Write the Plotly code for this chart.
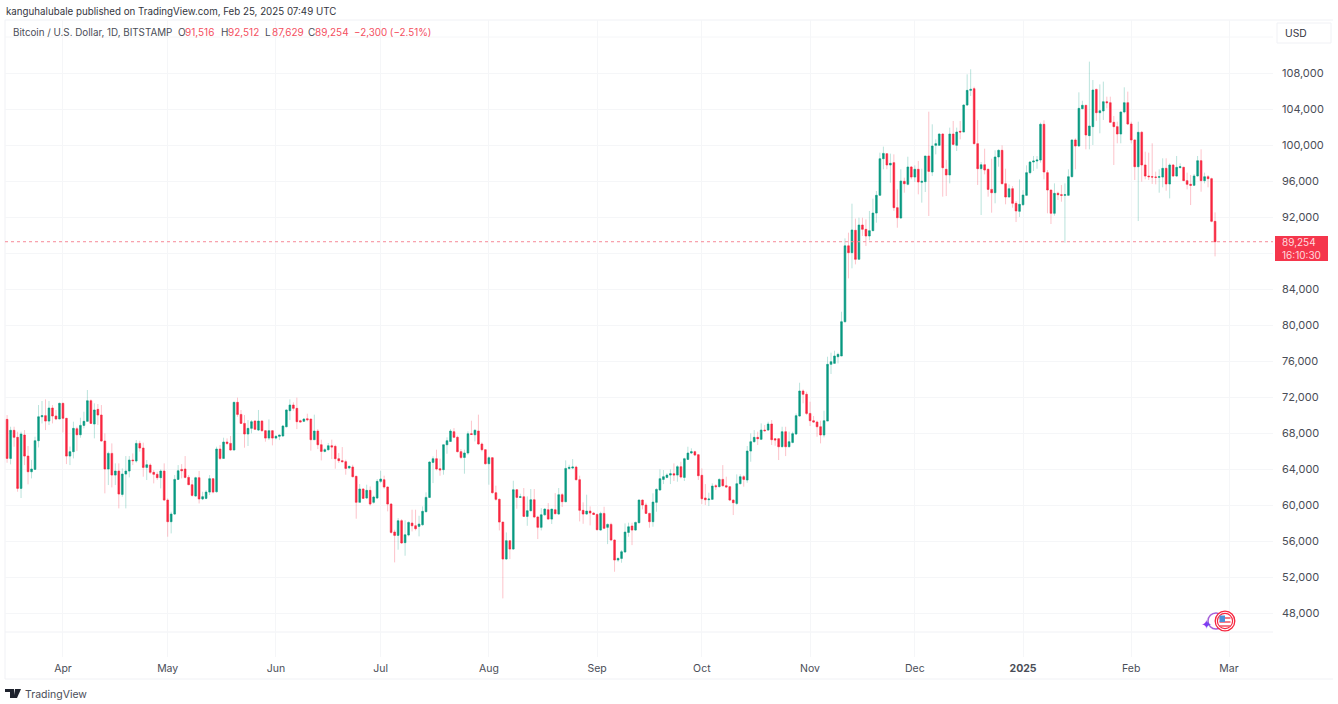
"""BTC/USD daily candles, redrawn from a published TradingView snapshot."""
import pandas as pd
import plotly.graph_objects as go

# Mar 16 2024 to Feb 25 2025
opens = [
    69520, 65180, 68300, 67520, 61850, 67780, 65440, 63700, 63960, 67150,
    69810, 69930, 69330, 70780, 69890, 69560, 71300, 69630, 65440, 65930,
    68480, 67810, 68850, 69300, 71590, 69000, 70630, 70000, 67110, 64000,
    65740, 63330, 63780, 61180, 63440, 63780, 65000, 64890, 66850, 66330,
    64180, 64440, 63630, 63410, 63040, 63780, 60550, 58150, 59000, 62850,
    63960, 64000, 63070, 62260, 61000, 63040, 60670, 60740, 61440, 62930,
    61480, 66220, 65180, 67000, 66850, 66110, 71410, 70070, 69070, 67890,
    68520, 69330, 68330, 69330, 68260, 67440, 68260, 67440, 67630, 67670,
    68700, 70480, 71110, 70740, 69370, 69300, 69590, 69560, 67260, 68220,
    66700, 65960, 66150, 66590, 66520, 65150, 64930, 64820, 64110, 64220,
    63190, 60300, 61780, 60780, 61630, 60300, 60780, 62630, 62815, 62000,
    60110, 57000, 56630, 58260, 55820, 56670, 58000, 57700, 57630, 57810,
    59260, 60850, 64740, 65150, 64040, 63930, 66700, 67070, 68150, 67520,
    65930, 65290, 65780, 67920, 67810, 68220, 66780, 66150, 64590, 65260,
    61370, 60630, 58110, 54000, 56040, 55110, 61700, 60850, 60920, 58740,
    59370, 60590, 58670, 57520, 58920, 59480, 58440, 59480, 59000, 61150,
    60370, 64070, 64110, 64220, 62815, 59410, 59000, 59330, 59110, 58960,
    57220, 59070, 57520, 57850, 56110, 53890, 54070, 54780, 56960, 57670,
    57220, 58040, 60550, 60000, 59070, 58150, 60300, 61670, 62850, 63070,
    63330, 63480, 63330, 64260, 63070, 65070, 65780, 65930, 65590, 63300,
    60780, 60590, 60630, 62150, 62040, 62850, 62150, 62040, 60550, 60180,
    62370, 63150, 62780, 66000, 67040, 67520, 67300, 68330, 68330, 69000,
    67370, 67370, 66480, 68150, 66480, 66960, 67890, 69890, 72670, 72300,
    70180, 69370, 69220, 68700, 67780, 69330, 75630, 75740, 76480, 76560,
    80370, 88800, 88040, 90520, 87300, 91110, 90630, 89890, 90480, 92440,
    94410, 98480, 99040, 97780, 98040, 93040, 91890, 95960, 95630, 97560,
    96440, 97300, 95850, 95930, 98780, 97000, 99960, 99960, 101220, 97300,
    96670, 101220, 99960, 101520, 101440, 104440, 106070, 106260, 100150, 97370,
    97810, 97300, 95070, 94700, 98670, 99410, 95700, 94220, 95150, 93520,
    92630, 93370, 94410, 96930, 98110, 98220, 98330, 102300, 96930, 95000,
    92410, 94630, 94480, 94410, 94410, 96480, 100560, 99890, 104040, 104410,
    101040, 102040, 106180, 103590, 103780, 104810, 104700, 102520, 102040, 101220,
    103670, 104700, 102330, 100560, 97590, 101410, 97780, 96550, 96480, 96440,
    96410, 96440, 97410, 95670, 97780, 96550, 97480, 97520, 96040, 95630,
    95520, 96560, 98260, 96040, 96480, 96260, 91516,
]
highs = [
    70000, 68700, 68700, 68150, 68150, 68330, 66560, 65000, 67590, 71110,
    71560, 71740, 71560, 71110, 70560, 71370, 71370, 69700, 66500, 69260,
    68700, 69700, 70370, 72780, 71740, 71300, 71220, 71110, 67960, 65930,
    66850, 64630, 64630, 64070, 65440, 65440, 65740, 67220, 67150, 66930,
    65000, 64630, 63890, 63700, 63960, 64630, 60740, 59260, 63330, 64440,
    64550, 65440, 63330, 62780, 63150, 63780, 61480, 61660, 63330, 62960,
    66480, 66670, 67480, 67410, 67670, 71480, 71930, 70560, 70000, 69440,
    69440, 69440, 70560, 69440, 68330, 69520, 68330, 67780, 67780, 68890,
    70630, 71740, 71410, 71930, 69480, 69630, 70150, 69560, 70040, 68440,
    67260, 66330, 66890, 67260, 66700, 65780, 66440, 65040, 64370, 64480,
    63260, 62330, 61890, 62260, 62070, 61040, 62890, 63810, 63260, 62070,
    60220, 57260, 58550, 58440, 58300, 58180, 59480, 59480, 58810, 59850,
    61410, 64850, 65410, 66150, 65150, 66700, 67520, 68440, 68550, 67700,
    66220, 66150, 68190, 69370, 68440, 70040, 66960, 66220, 65410, 65330,
    62150, 60740, 58110, 56960, 56040, 62700, 61780, 61260, 61890, 60960,
    61780, 61780, 58810, 59660, 59660, 60220, 59550, 61330, 61890, 61330,
    64960, 64480, 65110, 64370, 63260, 60300, 61150, 59850, 59190, 59040,
    59260, 59810, 57960, 58040, 56180, 54180, 55000, 57960, 58040, 58040,
    58150, 60630, 60630, 60260, 59150, 61300, 61850, 63960, 63890, 63520,
    63960, 64630, 64440, 64810, 65260, 66480, 66300, 66040, 65670, 64070,
    62330, 61370, 62410, 62330, 62960, 64440, 63150, 62110, 60630, 63410,
    63410, 63330, 66560, 67960, 68330, 68150, 69070, 68890, 69260, 69440,
    67410, 67410, 68700, 68700, 68150, 68150, 70180, 73590, 72850, 72590,
    71480, 69890, 69370, 69370, 70480, 76480, 76930, 77150, 76930, 81480,
    89630, 90260, 93480, 91820, 91920, 91920, 91740, 92670, 94040, 94890,
    99150, 99820, 99070, 99040, 98960, 95070, 97300, 96370, 98700, 97670,
    97740, 98220, 97370, 98780, 103700, 102300, 100630, 101300, 101300, 98330,
    101930, 102670, 101930, 102670, 104520, 107850, 108410, 106480, 102780, 98110,
    99590, 97370, 98480, 99410, 99520, 99960, 97370, 95630, 95440, 93780,
    96180, 94990, 97740, 98220, 98780, 98780, 102480, 102740, 97220, 95000,
    95740, 94810, 95550, 95740, 97300, 100630, 100740, 105850, 104920, 104410,
    109260, 107220, 106260, 106740, 107040, 105370, 105370, 103220, 102590, 103700,
    106410, 105930, 102590, 100630, 102590, 101560, 99260, 99150, 100190, 97040,
    97300, 98520, 98520, 97960, 97890, 98780, 97960, 97590, 96930, 96670,
    96780, 98780, 99520, 96930, 96670, 96370, 92512,
]
lows = [
    64700, 64520, 66480, 61480, 60780, 64440, 62300, 62960, 63960, 66400,
    69070, 68330, 68890, 69070, 69440, 69560, 68070, 64550, 64440, 65180,
    66000, 67480, 68520, 69260, 69000, 67410, 68890, 67040, 61300, 62220,
    61960, 62220, 59630, 60930, 59630, 63070, 64440, 64700, 65930, 63150,
    62780, 63440, 62410, 62780, 61850, 60480, 56480, 56850, 58890, 62780,
    62960, 62960, 62220, 60930, 60930, 60180, 60550, 60630, 61110, 61300,
    61370, 65000, 65180, 66670, 66040, 66110, 69810, 69000, 66370, 66560,
    67960, 68330, 68220, 68150, 67040, 67220, 66630, 67300, 67220, 67590,
    68630, 69440, 70480, 68440, 69190, 69220, 69300, 66040, 67260, 66220,
    64960, 65850, 66040, 65110, 64040, 64670, 64740, 63370, 64040, 63070,
    58480, 60300, 60670, 60670, 59930, 60150, 60670, 62440, 61810, 59300,
    56810, 53630, 55040, 55700, 54370, 56520, 57070, 57180, 56520, 57700,
    59190, 60780, 62440, 63850, 63260, 63370, 65700, 67000, 67440, 65850,
    65110, 63480, 65590, 67810, 67070, 66700, 65960, 64480, 62260, 61260,
    60480, 57180, 49630, 53920, 54000, 55040, 59590, 60780, 58670, 57700,
    59300, 58550, 56220, 57180, 58810, 58370, 57890, 58960, 58920, 59780,
    60300, 63930, 63990, 62740, 58180, 57920, 58920, 57740, 58890, 57180,
    57150, 57330, 55660, 56030, 52590, 53700, 53590, 54700, 56480, 55550,
    57150, 57960, 59520, 59000, 57480, 57590, 59260, 61590, 62330, 62960,
    62330, 62670, 62590, 62960, 62670, 65000, 65670, 65440, 62780, 60110,
    60000, 59890, 60560, 61670, 61960, 62040, 61930, 60440, 58890, 60000,
    62300, 62040, 62480, 64810, 66930, 66670, 67220, 68150, 68260, 66670,
    66590, 65000, 66410, 65440, 66410, 66850, 67780, 69810, 71300, 70000,
    68780, 69150, 67590, 66850, 67520, 69330, 74560, 75670, 75740, 76560,
    80260, 85180, 86300, 86740, 87300, 89890, 88780, 89410, 90440, 91370,
    94330, 97300, 97300, 95810, 92670, 90810, 91810, 94700, 95520, 96190,
    95890, 94520, 93590, 94780, 92110, 96550, 98960, 99890, 94260, 94330,
    95740, 99960, 99330, 100630, 101440, 104330, 105440, 100070, 95560, 92220,
    96740, 94260, 92480, 93520, 97590, 95630, 93410, 94150, 93040, 91440,
    92000, 93220, 94330, 96740, 97110, 97370, 98040, 96190, 92410, 91220,
    92150, 93890, 93700, 89150, 94330, 96410, 97300, 99810, 103960, 99520,
    99520, 100000, 102670, 101300, 102780, 104070, 102480, 97780, 100190, 100190,
    103520, 102220, 100190, 96110, 91550, 95920, 96190, 96110, 95670, 95630,
    94700, 95300, 94920, 94070, 96480, 96480, 97480, 96000, 95070, 93330,
    95440, 96480, 94810, 95740, 95300, 91410, 87629,
]
closes = [
    65180, 68300, 67520, 61850, 67890, 65440, 63700, 64000, 67150, 69810,
    69930, 69330, 70780, 69890, 69560, 71300, 69630, 65440, 65930, 68520,
    67810, 68850, 69300, 71590, 69070, 70560, 70000, 67110, 64000, 65740,
    63330, 63780, 61220, 63440, 63780, 65000, 64930, 66850, 66330, 64180,
    64480, 63630, 63410, 63040, 63780, 60550, 58150, 59000, 62850, 63810,
    63810, 63070, 62260, 61070, 63040, 60670, 60930, 61440, 62930, 61440,
    66220, 65180, 67000, 66850, 66110, 71410, 70070, 69070, 67890, 68520,
    69260, 68410, 69330, 68260, 67440, 68260, 67440, 67630, 67780, 68780,
    70560, 71110, 70740, 69260, 69220, 69560, 69480, 67260, 68220, 66700,
    65960, 66150, 66590, 66440, 65150, 64930, 64820, 64070, 64300, 63150,
    60300, 61780, 60740, 61630, 60110, 60890, 62630, 62890, 62000, 60110,
    56960, 56630, 58260, 55780, 56700, 58070, 57700, 57370, 57890, 59300,
    60850, 64780, 65150, 64000, 63890, 66700, 67150, 68220, 67520, 65930,
    65290, 65780, 67920, 67850, 68300, 66780, 66150, 64590, 65260, 61370,
    60630, 58110, 54000, 56040, 55110, 61700, 60850, 60920, 58740, 59370,
    60590, 58670, 57520, 58920, 59550, 58440, 59550, 59040, 61150, 60370,
    64070, 64180, 64220, 62815, 59410, 59000, 59330, 59110, 58960, 57260,
    59070, 57410, 57850, 56110, 53890, 54070, 54810, 57000, 57590, 57220,
    58070, 60550, 60000, 59070, 58150, 60330, 61740, 62930, 63150, 63330,
    63480, 63330, 64260, 63110, 65150, 65780, 65930, 65550, 63260, 60700,
    60590, 60670, 62110, 62040, 62850, 62150, 62000, 60550, 60260, 62370,
    63150, 62850, 66000, 67040, 67520, 67370, 68330, 68260, 69000, 67260,
    67220, 66480, 68150, 66480, 67040, 67930, 69930, 72670, 72300, 70180,
    69370, 69220, 68700, 67780, 69370, 75630, 75930, 76560, 76740, 80370,
    88800, 88040, 90560, 87300, 91110, 90630, 89890, 90480, 92440, 94410,
    98480, 99070, 97780, 97960, 93040, 91920, 96000, 95700, 97560, 96440,
    97300, 95890, 95960, 98780, 97070, 99890, 100150, 101220, 97480, 96670,
    101220, 100070, 101440, 101440, 104440, 106070, 106180, 100150, 97370, 97810,
    97220, 95070, 94700, 98670, 99410, 95700, 94220, 95150, 93520, 92670,
    93410, 94440, 96930, 98110, 98220, 98330, 102300, 97000, 95000, 92410,
    94630, 94480, 94410, 94480, 96480, 100560, 99890, 104070, 104410, 101110,
    102110, 106110, 103590, 103810, 104810, 104700, 102520, 102040, 101220, 103670,
    104700, 102330, 100560, 97590, 101410, 97780, 96550, 96480, 96440, 96410,
    96480, 97410, 95670, 97780, 96550, 97520, 97590, 96040, 95630, 95520,
    96560, 98260, 96040, 96480, 96260, 91516, 89254,
]

price_ticks = [48000, 52000, 56000, 60000, 64000, 68000, 72000, 76000, 80000, 84000,
               88000, 92000, 96000, 100000, 104000, 108000]
# 88,000 sits behind the last price tag in the reference, only its grid line shows
price_labels = ["48,000", "52,000", "56,000", "60,000", "64,000", "68,000", "72,000", "76,000", "80,000", "84,000",
                "", "92,000", "96,000", "100,000", "104,000", "108,000"]
month_ticks = ["2024-04-01", "2024-05-01", "2024-06-01", "2024-07-01", "2024-08-01", "2024-09-01",
               "2024-10-01", "2024-11-01", "2024-12-01", "2025-01-01", "2025-02-01", "2025-03-01"]
month_labels = ["Apr", "May", "Jun", "Jul", "Aug", "Sep", "Oct", "Nov", "Dec", "<b>2025</b>", "Feb", "Mar"]

GREEN = "#089981"
RED = "#f7263f"
GRID = "#f5f6f8"
FRAME = "#f0f1f5"
TEXT = "#4a4d57"
FONT = "Inter"

# plot area in page pixels, the overlays below are placed with these
LEFT, RIGHT, TOP, BOTTOM = 5, 1273, 20, 657


def px(x):
    return (x - LEFT) / (RIGHT - LEFT)


def py(y):
    return (BOTTOM - y) / (BOTTOM - TOP)


def label(x, y, text, color=TEXT, size=10.5):
    fig.add_annotation(xref="paper", yref="paper", x=px(x), y=py(y), text=text, showarrow=False,
                       xanchor="left", yanchor="middle", align="left", borderpad=0,
                       font=dict(family=FONT, size=size, color=color))


def circle(cx, cy, r, **kw):
    fig.add_shape(type="circle", xref="paper", yref="paper", x0=px(cx - r), x1=px(cx + r),
                  y0=py(cy + r), y1=py(cy - r), **kw)


def line(x0, y0, x1, y1, color=FRAME, width=1, layer="below"):
    fig.add_shape(type="line", xref="paper", yref="paper", x0=px(x0), x1=px(x1), y0=py(y0), y1=py(y1),
                  line=dict(color=color, width=width), layer=layer)


dates = pd.date_range("2024-03-16", periods=len(opens), freq="D")
body_top = [max(o, c) for o, c in zip(opens, closes)]
body_bottom = [min(o, c) for o, c in zip(opens, closes)]

fig = go.Figure()
# wicks are pale in the reference, so they get their own trace under the solid bodies
fig.add_trace(go.Candlestick(x=dates, open=opens, high=highs, low=lows, close=closes,
                             increasing=dict(line=dict(color="rgba(8,153,129,0.28)", width=1),
                                             fillcolor="rgba(0,0,0,0)"),
                             decreasing=dict(line=dict(color="rgba(247,38,63,0.28)", width=1),
                                             fillcolor="rgba(0,0,0,0)"),
                             whiskerwidth=0, hoverinfo="skip", showlegend=False))
fig.add_trace(go.Candlestick(x=dates, open=opens, high=body_top, low=body_bottom, close=closes,
                             increasing=dict(line=dict(color=GREEN, width=0.4), fillcolor=GREEN),
                             decreasing=dict(line=dict(color=RED, width=0.4), fillcolor=RED),
                             whiskerwidth=0, hoverinfo="skip", showlegend=False))

fig.update_layout(
    width=1338, height=704, paper_bgcolor="white", plot_bgcolor="white", showlegend=False,
    margin=dict(l=LEFT, r=1338 - RIGHT, t=TOP, b=704 - BOTTOM, pad=0),
    boxmode="overlay", boxgap=0.3,
    font=dict(family=FONT, color=TEXT, size=11),
)
fig.update_xaxes(type="date", rangeslider_visible=False, range=["2024-03-15 09:36", "2025-03-13 14:24"],
                 tickmode="array", tickvals=month_ticks, ticktext=month_labels, ticks="",
                 showgrid=True, gridcolor=GRID, gridwidth=1, zeroline=False, showline=False,
                 tickfont=dict(family=FONT, size=10.5, color=TEXT), ticklabelstandoff=3)
fig.update_yaxes(side="right", range=[43118, 113888], tickmode="array", tickvals=price_ticks,
                 ticktext=price_labels, ticks="", showgrid=True, gridcolor=GRID, gridwidth=1, zeroline=False,
                 showline=False, tickfont=dict(family=FONT, size=11, color=TEXT), ticklabelstandoff=8)

# frame of the pane and the time axis, plus the unlabelled grid line above 108,000
line(5, 20, 1333, 20)
line(5, 20, 5, 679)
line(5, 679, 1333, 679)
line(5, 632, 1273, 632)
line(5, 37, 1273, 37, color=GRID)

# last price line and its tag
fig.add_hline(y=closes[-1], line_color="#f78a98", line_width=1, line_dash="dot")
fig.add_shape(type="rect", xref="paper", yref="paper", x0=px(1275), x1=px(1328), y0=py(261), y1=py(236),
              fillcolor="#f5364c", line=dict(width=0))
label(1281, 248, f"{closes[-1]:,}<br>16:10:30", color="#ffd9de", size=10)

# currency box
fig.add_shape(type="rect", xref="paper", yref="paper", x0=px(1277), x1=px(1331), y0=py(43), y1=py(23),
              fillcolor="white", line=dict(color=FRAME, width=1))
label(1284, 33, "USD", color="#33353d", size=10.3)

# header
label(5, 11, "kanguhalubale published on TradingView.com, Feb 25, 2025 07:49 UTC", color="#33353d", size=9.75)
label(12, 32, "Bitcoin / U.S. Dollar, 1D, BITSTAMP", size=9.8)
ohlc_tags = ["O", "H", "L", "C"]
ohlc_x = [177, 220, 264, 307]
for tag, tag_x, value in zip(ohlc_tags, ohlc_x, [opens[-1], highs[-1], lows[-1], closes[-1]]):
    label(tag_x, 32, tag, size=10)
    label(tag_x + 7, 32, f"{value:,}", color="#f4505f", size=10)
label(353, 32, "−2,300 (−2.51%)", color="#f4505f", size=9.8)

# footer logo, mark drawn with two paths
for d in [[(5, 689), (14, 689), (14, 698), (10, 698), (10, 692), (5, 692)],
          [(15, 689), (21, 689), (17, 698), (13.5, 698)]]:
    path = "M " + " L ".join(f"{px(x)},{py(y)}" for x, y in d) + " Z"
    fig.add_shape(type="path", xref="paper", yref="paper", path=path, fillcolor="#1e222d", line=dict(width=0))
circle(16.5, 691, 1.4, fillcolor="#1e222d", line=dict(width=0))
label(24, 694, "TradingView", color="#4a4d57", size=10.5)

# news badge near the Mar tick
circle(1216, 621, 8, fillcolor="rgba(0,0,0,0)", line=dict(color="#a55fd8", width=1.5))
fig.add_annotation(xref="paper", yref="paper", x=px(1206.7), y=py(624), text="✦", showarrow=False,
                   xanchor="center", yanchor="middle", font=dict(size=13, color="#7b3ff2"))
circle(1225, 621, 9.8, fillcolor="white", line=dict(color=RED, width=1.3))
circle(1225, 621, 7.6, fillcolor="white", line=dict(color=RED, width=1.2))
for stripe_y in [618, 622, 626]:
    line(1219.5, stripe_y, 1230.5, stripe_y, color="#ef5a6b", width=1.6, layer="above")
fig.add_shape(type="rect", xref="paper", yref="paper", x0=px(1219.5), x1=px(1225), y0=py(622), y1=py(615.5),
              fillcolor="#4a90d9", line=dict(width=0))

fig.write_html("out.html", post_script="document.body.style.margin='0';",
               config={"displayModeBar": False})
